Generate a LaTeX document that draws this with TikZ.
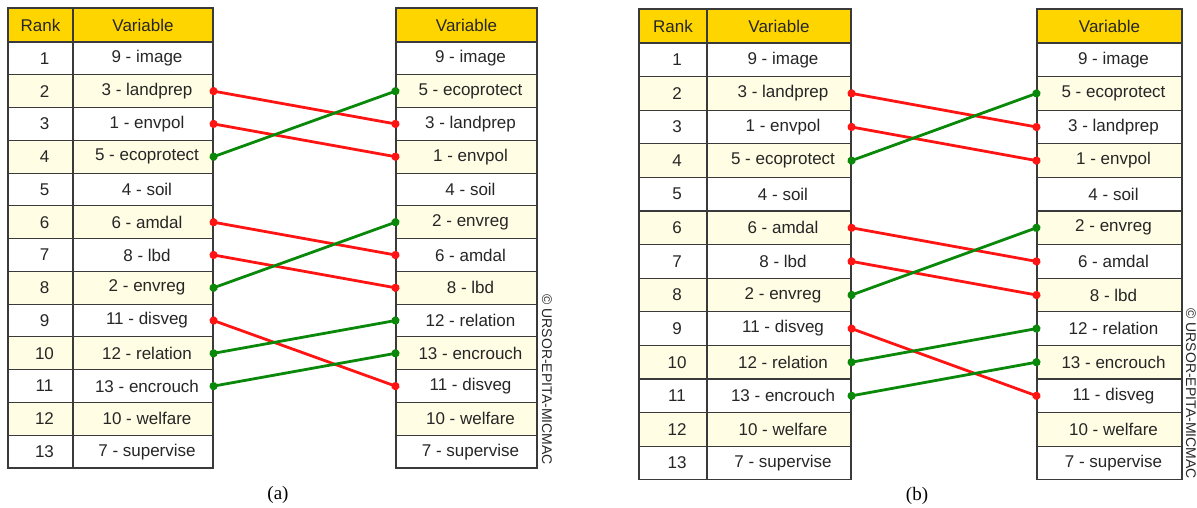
\documentclass[tikz,border=0pt]{standalone}
\usepackage{fontspec}
\setmainfont{Liberation Sans}
\newfontfamily\capfont{Liberation Serif}
\usetikzlibrary{arrows.meta}

\definecolor{hdr}{HTML}{FFD500}
\definecolor{rowy}{HTML}{FFFDE3}
\definecolor{grid}{HTML}{3A3A3A}
\definecolor{linkred}{HTML}{FF1414}
\definecolor{linkgreen}{HTML}{0A880A}

\tikzset{
  cell/.style={draw=grid, line width=1.1pt, inner sep=0pt, text=black!85,
    font=\fontsize{17}{17}\selectfont},
  hdrcell/.style={cell, fill=hdr},
  stripe0/.style={cell, fill=rowy, execute at begin node=\hspace*{8pt}},
  stripe1/.style={cell, fill=white, execute at begin node=\hspace*{8pt}},
  link/.style={line width=2.8pt, {Circle[length=8pt]}-{Circle[length=8pt]},
    shorten <=-4pt, shorten >=-4pt},
  gainlink/.style={link, draw=linkgreen},
  droplink/.style={link, draw=linkred},
  credit/.style={rotate=-90, anchor=east, inner sep=0pt, text=black!85,
    font=\fontsize{14}{14}\selectfont},
  caption/.style={font=\capfont\fontsize{19}{19}\selectfont}
}

% rank / variable before / variable after
\def\rowlist{1/9 - image/9 - image, 2/3 - landprep/5 - ecoprotect,
  3/1 - envpol/3 - landprep, 4/5 - ecoprotect/1 - envpol, 5/4 - soil/4 - soil,
  6/6 - amdal/2 - envreg, 7/8 - lbd/6 - amdal, 8/2 - envreg/8 - lbd,
  9/11 - disveg/12 - relation, 10/12 - relation/13 - encrouch,
  11/13 - encrouch/11 - disveg, 12/10 - welfare/10 - welfare,
  13/7 - supervise/7 - supervise}

% #1 prefix, #2 left x, #3 rank|variable divider, #4 right edge of left table,
% #5 left edge of right table, #6 right edge of right table,
% #7 top, #8 header bottom, #9 row height
\newcommand\micpanel[9]{%
  \node[hdrcell, minimum width={#3-#2}, minimum height={#8-#7}] (#1hk)
    at ({(#2+#3)/2},{(#7+#8)/2}) {Rank};
  \node[hdrcell, minimum width={#4-#3}, minimum height={#8-#7}] (#1hl)
    at ({(#3+#4)/2},{(#7+#8)/2}) {Variable};
  \node[hdrcell, minimum width={#6-#5}, minimum height={#8-#7}] (#1hr)
    at ({(#5+#6)/2},{(#7+#8)/2}) {Variable};
  \foreach \i/\lv/\rv in \rowlist {
    \pgfmathsetmacro\yc{#8+(\i-0.5)*#9}
    \pgfmathtruncatemacro\rp{mod(\i,2)}
    \node[stripe\rp, minimum width={#3-#2}, minimum height=#9] (#1k\i)
      at ({(#2+#3)/2},\yc) {\i};
    \node[stripe\rp, minimum width={#4-#3}, minimum height=#9] (#1l\i)
      at ({(#3+#4)/2},\yc) {\lv};
    \node[stripe\rp, minimum width={#6-#5}, minimum height=#9] (#1r\i)
      at ({(#5+#6)/2},\yc) {\rv};
  }
  \draw[droplink] (#1l2.east) -- (#1r3.west);
  \draw[droplink] (#1l3.east) -- (#1r4.west);
  \draw[gainlink] (#1l4.east) -- (#1r2.west);
  \draw[droplink] (#1l6.east) -- (#1r7.west);
  \draw[droplink] (#1l7.east) -- (#1r8.west);
  \draw[gainlink] (#1l8.east) -- (#1r6.west);
  \draw[droplink] (#1l9.east) -- (#1r11.west);
  \draw[gainlink] (#1l10.east) -- (#1r9.west);
  \draw[gainlink] (#1l11.east) -- (#1r10.west);
}

\begin{document}
\begin{tikzpicture}[x=1pt, y=-1pt]
  \useasboundingbox (0,0) rectangle (1197,508);

  \micpanel{a}{8}{73}{213}{396}{537}{8}{42}{32.77}
  \node[credit] (acr) at (547,465) {© URSOR-EPITA-MICMAC};
  \node[caption] (acap) at (278,495) {(a)};

  \micpanel{b}{639}{707}{851}{1037}{1182}{9}{43}{33.6}
  \node[credit] (bcr) at (1191,479) {© URSOR-EPITA-MICMAC};
  \node[caption] (bcap) at (917,496) {(b)};
\end{tikzpicture}
\end{document}
